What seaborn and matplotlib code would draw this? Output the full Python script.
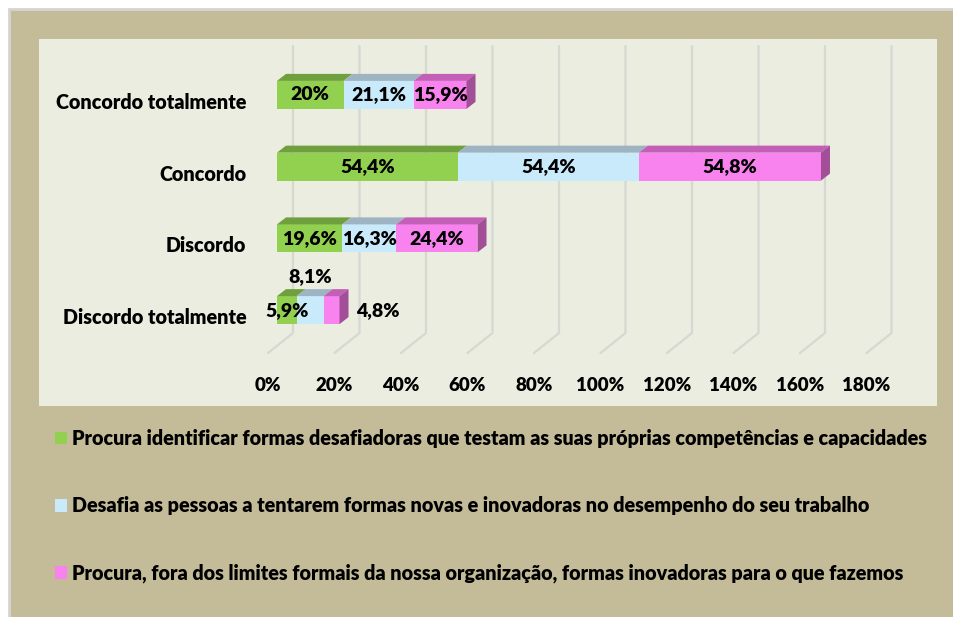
import matplotlib
matplotlib.use("Agg")
import matplotlib.pyplot as plt
from matplotlib.patches import Rectangle, Polygon, Patch
from matplotlib.lines import Line2D
from matplotlib.transforms import ScaledTranslation
import pandas as pd
import seaborn as sns

# data
categories = ["Concordo totalmente", "Concordo", "Discordo", "Discordo totalmente"]
identificar = [20.0, 54.4, 19.6, 5.9]
desafia = [21.1, 54.4, 16.3, 8.1]
fora_limites = [15.9, 54.8, 24.4, 4.8]
series_names = [
    "Procura identificar formas desafiadoras que testam as suas próprias competências e capacidades",
    "Desafia as pessoas a tentarem formas novas e inovadoras no desempenho do seu trabalho",
    "Procura, fora dos limites formais da nossa organização, formas inovadoras para o que fazemos",
]
x_ticks = [0, 20, 40, 60, 80, 100, 120, 140, 160, 180]
tick_labels = [f"{t}%" for t in x_ticks]

# colours
TAN = "#c4bc98"
INNER = "#eaeddf"
GRID = "#d6d8d2"
face_colors = ["#92d050", "#c9eafb", "#f882ee"]
top_colors = ["#70a03e", "#9fb4c3", "#c35fb6"]
SIDE = "#a24f97"
WEIGHT = "heavy"

sns.set_theme(style="white")
plt.rcParams["font.family"] = ["Lato", "DejaVu Sans"]
plt.rcParams["font.weight"] = WEIGHT
plt.rcParams["text.color"] = "black"
plt.rcParams["xtick.color"] = "black"
plt.rcParams["ytick.color"] = "black"

W, H = 954, 617
fig = plt.figure(figsize=(W / 100, H / 100), dpi=100, facecolor="white")


def box(x0, y0, x1, y1):
    # pixel box (from top-left) -> figure fraction rect
    return [x0 / W, 1 - y1 / H, (x1 - x0) / W, (y1 - y0) / H]


# outer frame and plot area
fig.patches.append(Rectangle((10 / W, 0), (W - 10) / W, (H - 10) / H, zorder=-2,
                             transform=fig.transFigure, facecolor=TAN, edgecolor="none"))
fig.add_artist(Line2D([9 / W, 9 / W], [0, 1 - 9 / H], transform=fig.transFigure, color="#d4d4d4", lw=2))
fig.add_artist(Line2D([9 / W, 1], [1 - 9 / H, 1 - 9 / H], transform=fig.transFigure, color="#d4d4d4", lw=2))
b = box(39, 39, 937, 406)
fig.patches.append(Rectangle((b[0], b[1]), b[2], b[3], transform=fig.transFigure, zorder=-1,
                             facecolor=INNER, edgecolor="none"))

ax = fig.add_axes(box(277, 59, 875.5, 346))
ax.set_zorder(2)
ax.patch.set_alpha(0)

df = pd.DataFrame({"categoria": categories, "s1": identificar, "s2": desafia, "s3": fora_limites})
df["c1"] = df["s1"]
df["c2"] = df["s1"] + df["s2"]
df["c3"] = df["c2"] + df["s3"]

BAR_W = 0.39
for col, colr in zip(["c3", "c2", "c1"], face_colors[::-1]):
    sns.barplot(data=df, x=col, y="categoria", orient="h", color=colr, saturation=1,
                width=BAR_W, linewidth=0, ax=ax, zorder=3)

ax.set_xlim(0, 180)
ax.set_ylim(3.5, -0.5)

# pixel -> data conversion for 3D depth
px_x = 180 / 598.5
px_y = 4 / 287
DX, DY = 9, 7
ddx, ddy = DX * px_x, DY * px_y

starts = [[0] * 4, list(df["c1"]), list(df["c2"])]
ends = [list(df["c1"]), list(df["c2"]), list(df["c3"])]
for j in range(3):
    for i in range(len(categories)):
        l, r = starts[j][i], ends[j][i]
        top = i - BAR_W / 2
        bot = i + BAR_W / 2
        ax.add_patch(Polygon([(l, top), (r, top), (r + ddx, top - ddy), (l + ddx, top - ddy)],
                             closed=True, facecolor=top_colors[j], edgecolor="none", zorder=3))
        if j == 2:
            ax.add_patch(Polygon([(r, top), (r + ddx, top - ddy), (r + ddx, bot - ddy), (r, bot)],
                                 closed=True, facecolor=SIDE, edgecolor="none", zorder=3))

# 3D gridlines (back wall + floor)
for t in x_ticks:
    xb = t + 16 * px_x
    xf = t - 9 * px_x
    ax.plot([xb, xb, xf], [-0.5 - 13 * px_y, 3.5 - 13 * px_y, 3.5 + 7 * px_y],
            color=GRID, lw=1.6, clip_on=False, zorder=1)


def fmt(v):
    return f"{v:g}".replace(".", ",") + "%"


# value labels
VAL_FS = 14
vals = [identificar, desafia, fora_limites]
for j in range(3):
    for i in range(len(categories)):
        l, r = starts[j][i], ends[j][i]
        txt = fmt(vals[j][i])
        if i == 3 and j == 1:
            ax.text((l + r) / 2, i - 34 * px_y, txt, ha="center", va="center", fontsize=VAL_FS,
                    fontweight=WEIGHT, zorder=5)
        elif i == 3 and j == 2:
            ax.text(r + 17 * px_x, i, txt, ha="left", va="center", fontsize=VAL_FS,
                    fontweight=WEIGHT, zorder=5)
        else:
            ax.text((l + r) / 2, i, txt, ha="center", va="center", fontsize=VAL_FS,
                    fontweight=WEIGHT, zorder=5)

ax.set_xticks(x_ticks, tick_labels)
ax.tick_params(axis="x", length=0, pad=22, labelsize=13.5)
ax.tick_params(axis="y", length=0, pad=22, labelsize=14.2)
for lab in ax.get_xticklabels():
    lab.set_fontweight(WEIGHT)
    lab.set_transform(lab.get_transform() + ScaledTranslation(-9 / 100, 0, fig.dpi_scale_trans))
for lab in ax.get_yticklabels():
    lab.set_fontweight(WEIGHT)
    lab.set_transform(lab.get_transform() + ScaledTranslation(0, -6 / 100, fig.dpi_scale_trans))
ax.set_xlabel("")
ax.set_ylabel("")
for s in ax.spines.values():
    s.set_visible(False)

handles = [Patch(facecolor=c, edgecolor="none") for c in face_colors]
fig.legend(handles, series_names, loc="upper left", bbox_to_anchor=(55 / W, 1 - 429 / H),
           frameon=False, handlelength=0.62, handleheight=0.62, handletextpad=0.25,
           labelspacing=2.45, borderpad=0, borderaxespad=0, prop={"weight": WEIGHT, "size": 14.2})

fig.savefig("out.png", dpi=100, facecolor=fig.get_facecolor())
